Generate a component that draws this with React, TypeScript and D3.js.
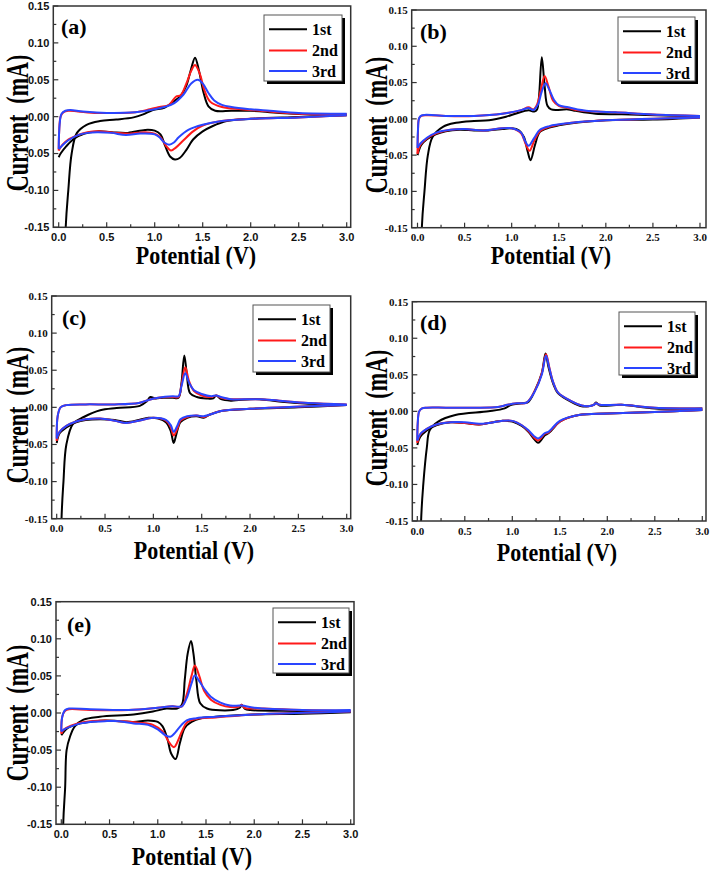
import React from 'react';
import * as d3 from 'd3';

type Pt = [number, number];

const cycleNames = ['1st', '2nd', '3rd'];
const cycleColors = ['#000000', '#ff1a1a', '#2a45ff'];
const panelLabels = ['(a)', '(b)', '(c)', '(d)', '(e)'];
const xTickValues = [0, 0.5, 1, 1.5, 2, 2.5, 3];
const xTickLabels = ['0.0', '0.5', '1.0', '1.5', '2.0', '2.5', '3.0'];
const xMinorTicks = [0.25, 0.75, 1.25, 1.75, 2.25, 2.75];
const yTickValues = [-0.15, -0.1, -0.05, 0, 0.05, 0.1, 0.15];
const yTickLabels = ['-0.15', '-0.10', '-0.05', '0.00', '0.05', '0.10', '0.15'];
const yMinorTicks = [-0.125, -0.075, -0.025, 0.025, 0.075, 0.125];
const xTitle = 'Potential (V)';
const yTitle = 'Current\u00a0\u00a0(mA)';

// ---------- panel (a) ----------
const aCath1: Pt[] = [[3.0,0.002],[2.5,-0.0005],[2.0,-0.003],[1.75,-0.006],[1.6,-0.013],[1.5,-0.02],[1.4,-0.031],[1.33,-0.045],[1.26,-0.056],[1.21,-0.058],[1.16,-0.054],[1.11,-0.04],[1.06,-0.024],[1.0,-0.019],[0.9,-0.018],[0.72,-0.022],[0.55,-0.021],[0.4,-0.02],[0.27,-0.023],[0.16,-0.03],[0.08,-0.04],[0.02,-0.05],[0.0,-0.055]];
const aAnod1: Pt[] = [[0.03,-0.4],[0.073,-0.15],[0.1,-0.1],[0.135,-0.05],[0.19,-0.022],[0.29,-0.011],[0.43,-0.006],[0.6,-0.004],[0.78,-0.001],[0.88,0.003],[0.98,0.009],[1.1,0.012],[1.19,0.02],[1.27,0.028],[1.33,0.042],[1.38,0.065],[1.42,0.08],[1.46,0.063],[1.51,0.032],[1.56,0.014],[1.63,0.008],[1.8,0.008],[2.0,0.008],[2.3,0.005],[2.7,0.003],[3.0,0.003]];
const aCath2: Pt[] = [[3.0,0.002],[2.5,-0.001],[2.0,-0.003],[1.7,-0.006],[1.5,-0.012],[1.4,-0.02],[1.3,-0.032],[1.22,-0.042],[1.17,-0.046],[1.12,-0.04],[1.06,-0.028],[1.0,-0.023],[0.9,-0.021],[0.75,-0.023],[0.6,-0.022],[0.45,-0.02],[0.3,-0.021],[0.2,-0.025],[0.1,-0.031],[0.04,-0.038],[0.0,-0.046]];
const aAnod2: Pt[] = [[0.0,-0.046],[0.005,-0.02],[0.02,0.0],[0.05,0.006],[0.1,0.008],[0.2,0.007],[0.4,0.005],[0.6,0.005],[0.8,0.006],[0.95,0.01],[1.05,0.013],[1.15,0.016],[1.22,0.027],[1.27,0.029],[1.33,0.045],[1.38,0.062],[1.42,0.07],[1.47,0.058],[1.52,0.035],[1.58,0.02],[1.7,0.013],[1.9,0.01],[2.1,0.008],[2.5,0.004],[3.0,0.003]];
const aCath3: Pt[] = [[3.0,0.002],[2.5,-0.001],[2.0,-0.003],[1.7,-0.006],[1.5,-0.011],[1.35,-0.018],[1.25,-0.028],[1.2,-0.035],[1.15,-0.038],[1.1,-0.035],[1.05,-0.028],[1.0,-0.024],[0.85,-0.023],[0.7,-0.025],[0.55,-0.022],[0.4,-0.021],[0.3,-0.022],[0.2,-0.025],[0.1,-0.032],[0.03,-0.04],[0.0,-0.044]];
const aAnod3: Pt[] = [[0.0,-0.044],[0.01,-0.01],[0.03,0.004],[0.07,0.008],[0.12,0.009],[0.25,0.007],[0.5,0.005],[0.8,0.006],[1.0,0.01],[1.1,0.013],[1.2,0.018],[1.3,0.03],[1.38,0.045],[1.45,0.05],[1.5,0.045],[1.56,0.032],[1.62,0.022],[1.7,0.016],[1.8,0.013],[2.0,0.01],[2.2,0.008],[2.5,0.005],[3.0,0.004]];

// ---------- panel (b) ----------
const bCath1: Pt[] = [[3.0,0.002],[2.5,-0.001],[2.0,-0.002],[1.7,-0.005],[1.5,-0.009],[1.4,-0.012],[1.3,-0.018],[1.25,-0.035],[1.2,-0.057],[1.17,-0.045],[1.13,-0.025],[1.08,-0.016],[1.0,-0.013],[0.9,-0.014],[0.75,-0.016],[0.6,-0.016],[0.45,-0.015],[0.3,-0.017],[0.2,-0.021],[0.1,-0.028],[0.04,-0.036],[0.0,-0.05]];
const bAnod1: Pt[] = [[0.02,-0.4],[0.046,-0.15],[0.074,-0.1],[0.11,-0.05],[0.16,-0.025],[0.27,-0.011],[0.41,-0.0055],[0.6,-0.003],[0.76,-0.002],[0.94,0.003],[1.04,0.007],[1.18,0.012],[1.24,0.01],[1.27,0.013],[1.29,0.03],[1.32,0.085],[1.35,0.045],[1.38,0.018],[1.42,0.013],[1.6,0.013],[1.68,0.011],[1.89,0.007],[2.17,0.0064],[2.52,0.005],[3.0,0.003]];
const bCath2: Pt[] = [[3.0,0.002],[2.0,-0.002],[1.6,-0.006],[1.4,-0.011],[1.3,-0.017],[1.24,-0.03],[1.19,-0.044],[1.15,-0.035],[1.1,-0.02],[1.0,-0.013],[0.9,-0.013],[0.7,-0.016],[0.5,-0.014],[0.35,-0.015],[0.2,-0.02],[0.1,-0.027],[0.03,-0.036],[0.0,-0.048]];
const bAnod2: Pt[] = [[0.0,-0.048],[0.005,-0.02],[0.015,0.0],[0.04,0.004],[0.1,0.005],[0.3,0.004],[0.6,0.004],[0.9,0.007],[1.1,0.012],[1.18,0.016],[1.23,0.013],[1.27,0.02],[1.31,0.04],[1.35,0.059],[1.39,0.045],[1.44,0.025],[1.5,0.018],[1.6,0.015],[1.7,0.012],[1.9,0.01],[2.1,0.009],[2.5,0.006],[3.0,0.004]];
const bCath3: Pt[] = [[3.0,0.002],[2.0,-0.002],[1.6,-0.006],[1.4,-0.01],[1.3,-0.015],[1.24,-0.026],[1.18,-0.037],[1.14,-0.03],[1.1,-0.019],[1.0,-0.013],[0.9,-0.013],[0.7,-0.016],[0.5,-0.014],[0.35,-0.015],[0.2,-0.019],[0.1,-0.026],[0.03,-0.034],[0.0,-0.04]];
const bAnod3: Pt[] = [[0.0,-0.04],[0.005,-0.015],[0.02,0.002],[0.05,0.005],[0.3,0.004],[0.6,0.004],[0.9,0.007],[1.1,0.012],[1.18,0.015],[1.23,0.012],[1.28,0.02],[1.32,0.038],[1.36,0.049],[1.4,0.04],[1.45,0.026],[1.5,0.019],[1.6,0.016],[1.7,0.013],[1.9,0.01],[2.1,0.009],[2.5,0.006],[3.0,0.004]];

// ---------- panel (c) ----------
const cCath1: Pt[] = [[3.0,0.003],[2.5,0.0],[2.0,-0.002],[1.7,-0.005],[1.58,-0.01],[1.52,-0.014],[1.45,-0.012],[1.35,-0.014],[1.28,-0.02],[1.24,-0.035],[1.21,-0.048],[1.18,-0.032],[1.13,-0.02],[1.05,-0.015],[0.95,-0.014],[0.85,-0.017],[0.72,-0.02],[0.6,-0.017],[0.45,-0.016],[0.3,-0.017],[0.2,-0.02],[0.1,-0.027],[0.03,-0.035],[0.0,-0.048]];
const cAnod1: Pt[] = [[0.03,-0.4],[0.05,-0.15],[0.07,-0.1],[0.1,-0.05],[0.17,-0.022],[0.28,-0.013],[0.45,-0.004],[0.62,-0.001],[0.86,0.002],[0.93,0.008],[0.97,0.014],[1.02,0.012],[1.1,0.013],[1.2,0.013],[1.26,0.013],[1.29,0.032],[1.32,0.07],[1.345,0.046],[1.38,0.019],[1.45,0.014],[1.55,0.012],[1.62,0.012],[1.65,0.016],[1.7,0.011],[1.8,0.009],[2.0,0.011],[2.1,0.011],[2.3,0.008],[2.6,0.005],[3.0,0.003]];
const cCath2: Pt[] = [[3.0,0.003],[2.0,-0.002],[1.7,-0.005],[1.58,-0.01],[1.52,-0.013],[1.45,-0.011],[1.35,-0.013],[1.28,-0.018],[1.25,-0.028],[1.21,-0.038],[1.18,-0.027],[1.13,-0.018],[1.0,-0.014],[0.85,-0.018],[0.72,-0.021],[0.6,-0.018],[0.45,-0.015],[0.3,-0.016],[0.2,-0.019],[0.1,-0.025],[0.03,-0.033],[0.0,-0.045]];
const cAnod2: Pt[] = [[0.0,-0.045],[0.01,-0.012],[0.04,0.0],[0.1,0.003],[0.3,0.004],[0.6,0.004],[0.85,0.006],[0.95,0.01],[1.05,0.013],[1.2,0.014],[1.26,0.014],[1.29,0.03],[1.33,0.054],[1.37,0.035],[1.42,0.022],[1.5,0.016],[1.6,0.014],[1.65,0.016],[1.7,0.013],[1.8,0.011],[2.0,0.011],[2.1,0.011],[2.3,0.009],[2.6,0.006],[3.0,0.004]];
const cCath3: Pt[] = [[3.0,0.003],[2.0,-0.002],[1.7,-0.005],[1.58,-0.01],[1.52,-0.012],[1.45,-0.011],[1.35,-0.012],[1.28,-0.016],[1.25,-0.024],[1.21,-0.033],[1.18,-0.024],[1.13,-0.017],[1.0,-0.014],[0.85,-0.018],[0.72,-0.021],[0.6,-0.018],[0.45,-0.015],[0.3,-0.016],[0.2,-0.019],[0.1,-0.025],[0.03,-0.033],[0.0,-0.042]];
const cAnod3: Pt[] = [[0.0,-0.042],[0.01,-0.012],[0.04,0.0],[0.1,0.003],[0.3,0.004],[0.6,0.004],[0.85,0.006],[0.95,0.01],[1.05,0.013],[1.2,0.015],[1.26,0.015],[1.29,0.028],[1.33,0.046],[1.37,0.033],[1.42,0.023],[1.5,0.018],[1.6,0.015],[1.65,0.016],[1.7,0.014],[1.8,0.011],[2.0,0.011],[2.1,0.011],[2.3,0.009],[2.6,0.006],[3.0,0.004]];

// ---------- panel (d) ----------
const dCath1: Pt[] = [[3.0,0.002],[2.5,-0.001],[2.0,-0.003],[1.7,-0.005],[1.5,-0.014],[1.42,-0.025],[1.38,-0.03],[1.34,-0.033],[1.3,-0.04],[1.27,-0.043],[1.23,-0.038],[1.17,-0.028],[1.1,-0.02],[1.0,-0.014],[0.9,-0.013],[0.75,-0.016],[0.65,-0.018],[0.5,-0.016],[0.35,-0.015],[0.2,-0.019],[0.1,-0.026],[0.03,-0.035],[0.0,-0.046]];
const dAnod1: Pt[] = [[0.02,-0.4],[0.04,-0.15],[0.063,-0.1],[0.1,-0.05],[0.13,-0.026],[0.22,-0.014],[0.4,-0.005],[0.75,0.0],[0.92,0.004],[0.99,0.009],[1.1,0.011],[1.17,0.013],[1.24,0.029],[1.31,0.052],[1.35,0.079],[1.38,0.061],[1.43,0.038],[1.48,0.025],[1.62,0.013],[1.73,0.007],[1.8,0.007],[1.86,0.009],[1.88,0.012],[1.92,0.008],[2.15,0.009],[2.5,0.004],[3.0,0.004]];
const dCath2: Pt[] = [[3.0,0.002],[2.5,-0.001],[2.0,-0.003],[1.7,-0.005],[1.5,-0.014],[1.42,-0.024],[1.38,-0.029],[1.34,-0.031],[1.3,-0.037],[1.27,-0.04],[1.23,-0.036],[1.17,-0.027],[1.1,-0.019],[1.0,-0.013],[0.9,-0.013],[0.75,-0.016],[0.65,-0.018],[0.5,-0.016],[0.35,-0.015],[0.2,-0.018],[0.1,-0.024],[0.03,-0.032],[0.0,-0.043]];
const dAnod2: Pt[] = [[0.0,-0.043],[0.005,-0.015],[0.02,0.0],[0.05,0.004],[0.1,0.005],[0.3,0.005],[0.6,0.005],[0.85,0.006],[0.95,0.009],[1.05,0.011],[1.15,0.012],[1.24,0.029],[1.31,0.052],[1.355,0.078],[1.39,0.06],[1.43,0.04],[1.48,0.026],[1.62,0.014],[1.73,0.008],[1.8,0.007],[1.86,0.009],[1.88,0.011],[1.92,0.009],[2.15,0.009],[2.5,0.005],[3.0,0.004]];
const dCath3: Pt[] = [[3.0,0.002],[2.5,-0.001],[2.0,-0.003],[1.7,-0.005],[1.5,-0.013],[1.42,-0.023],[1.38,-0.028],[1.34,-0.03],[1.3,-0.035],[1.27,-0.037],[1.23,-0.034],[1.17,-0.026],[1.1,-0.019],[1.0,-0.013],[0.9,-0.013],[0.75,-0.016],[0.65,-0.017],[0.5,-0.015],[0.35,-0.015],[0.2,-0.018],[0.1,-0.024],[0.03,-0.031],[0.0,-0.04]];
const dAnod3: Pt[] = [[0.0,-0.04],[0.005,-0.015],[0.02,0.0],[0.05,0.004],[0.1,0.005],[0.3,0.005],[0.6,0.005],[0.85,0.006],[0.95,0.009],[1.05,0.011],[1.15,0.012],[1.24,0.028],[1.31,0.05],[1.355,0.076],[1.39,0.059],[1.43,0.04],[1.48,0.026],[1.62,0.014],[1.73,0.008],[1.8,0.007],[1.86,0.009],[1.88,0.011],[1.92,0.009],[2.15,0.009],[2.5,0.005],[3.0,0.004]];

// ---------- panel (e) ----------
const eCath1: Pt[] = [[3.0,0.001],[2.5,-0.001],[2.0,-0.002],[1.7,-0.004],[1.6,-0.005],[1.45,-0.007],[1.35,-0.012],[1.28,-0.02],[1.23,-0.04],[1.185,-0.062],[1.14,-0.055],[1.1,-0.035],[1.05,-0.018],[1.0,-0.012],[0.9,-0.01],[0.75,-0.012],[0.6,-0.011],[0.45,-0.01],[0.3,-0.012],[0.2,-0.014],[0.1,-0.018],[0.05,-0.022],[0.0,-0.03]];
const eAnod1: Pt[] = [[0.01,-0.4],[0.02,-0.15],[0.04,-0.1],[0.055,-0.05],[0.09,-0.032],[0.14,-0.018],[0.23,-0.009],[0.4,-0.005],[0.75,-0.002],[0.95,0.002],[1.09,0.006],[1.2,0.006],[1.25,0.011],[1.28,0.045],[1.31,0.08],[1.345,0.097],[1.37,0.08],[1.4,0.044],[1.44,0.013],[1.51,0.006],[1.78,0.004],[1.85,0.007],[1.87,0.011],[1.9,0.006],[1.96,0.004],[2.3,0.003],[3.0,0.002]];
const eCath2: Pt[] = [[3.0,0.002],[2.0,-0.002],[1.6,-0.006],[1.4,-0.008],[1.3,-0.013],[1.25,-0.025],[1.2,-0.04],[1.17,-0.046],[1.12,-0.04],[1.05,-0.025],[0.95,-0.016],[0.8,-0.013],[0.6,-0.011],[0.45,-0.01],[0.3,-0.011],[0.2,-0.013],[0.1,-0.017],[0.03,-0.022],[0.0,-0.028]];
const eAnod2: Pt[] = [[0.0,-0.028],[0.01,-0.005],[0.04,0.003],[0.08,0.005],[0.3,0.004],[0.7,0.004],[1.0,0.007],[1.15,0.009],[1.25,0.009],[1.3,0.025],[1.35,0.05],[1.385,0.064],[1.43,0.05],[1.48,0.03],[1.55,0.018],[1.65,0.011],[1.75,0.008],[1.85,0.009],[1.87,0.011],[1.9,0.007],[2.1,0.006],[2.5,0.004],[3.0,0.003]];
const eCath3: Pt[] = [[3.0,0.002],[2.0,-0.002],[1.6,-0.005],[1.4,-0.007],[1.3,-0.01],[1.22,-0.02],[1.17,-0.028],[1.13,-0.032],[1.08,-0.03],[1.0,-0.022],[0.9,-0.016],[0.75,-0.014],[0.6,-0.011],[0.45,-0.011],[0.3,-0.012],[0.2,-0.014],[0.1,-0.018],[0.03,-0.022],[0.0,-0.025]];
const eAnod3: Pt[] = [[0.0,-0.025],[0.01,-0.005],[0.04,0.004],[0.08,0.006],[0.3,0.005],[0.7,0.004],[1.0,0.007],[1.15,0.009],[1.25,0.009],[1.3,0.02],[1.35,0.04],[1.385,0.051],[1.42,0.045],[1.48,0.033],[1.55,0.022],[1.65,0.014],[1.75,0.01],[1.87,0.01],[2.0,0.007],[2.5,0.004],[3.0,0.004]];

const panelCurves: Pt[][][][] = [
  [[aCath1, aAnod1], [aCath2, aAnod2], [aCath3, aAnod3]],
  [[bCath1, bAnod1], [bCath2, bAnod2], [bCath3, bAnod3]],
  [[cCath1, cAnod1], [cCath2, cAnod2], [cCath3, cAnod3]],
  [[dCath1, dAnod1], [dCath2, dAnod2], [dCath3, dAnod3]],
  [[eCath1, eAnod1], [eCath2, eAnod2], [eCath3, eAnod3]],
];

const SERIF = "'Liberation Serif','Times New Roman',serif";
const SANS = "'Liberation Sans',Arial,sans-serif";

interface Layout {
  left: number; top: number; right: number; bottom: number;
  x0: number; x3: number; tickFont: string;
  labelX: number; labelY: number;
  legX: number; legY: number; legW: number; legH: number;
  yTx: number; yTy: number; xTx: number; xTy: number;
}

const layouts: Layout[] = [
  { left: 53.3, top: 6, right: 350.7, bottom: 227.3, x0: 58.7, x3: 346.7, tickFont: SANS, labelX: 61, labelY: 34, legX: 264, legY: 15, legW: 78, legH: 66, yTx: 18, yTy: 123, xTx: 196, xTy: 256.5 },
  { left: 411.7, top: 10, right: 706, bottom: 227.7, x0: 417.5, x3: 700, tickFont: SERIF, labelX: 420, labelY: 39, legX: 618, legY: 17, legW: 77, legH: 64, yTx: 377, yTy: 125, xTx: 551, xTy: 256.5 },
  { left: 51.7, top: 296, right: 350.7, bottom: 518.7, x0: 56.7, x3: 346.7, tickFont: SERIF, labelX: 62, labelY: 325, legX: 253, legY: 305, legW: 77, legH: 67, yTx: 18, yTy: 415, xTx: 194, xTy: 551 },
  { left: 412.3, top: 301.7, right: 706, bottom: 521, x0: 417.3, x3: 702.3, tickFont: SERIF, labelX: 420, labelY: 330, legX: 619, legY: 312, legW: 76, legH: 63, yTx: 377, yTy: 418, xTx: 557, xTy: 553 },
  { left: 56, top: 601.7, right: 354, bottom: 824.3, x0: 61.3, x3: 350.7, tickFont: SANS, labelX: 67, labelY: 632, legX: 273, legY: 608, legW: 76, legH: 65, yTx: 18, yTy: 713, xTx: 192, xTy: 857 },
];

const TITLE_SIZE = 22;
const X_STRETCH = 1.15;
const Y_STRETCH = 1.45;

function Panel({ idx }: { idx: number }) {
  const p = layouts[idx];
  const curves = panelCurves[idx];
  const x = d3.scaleLinear().domain([0, 3]).range([p.x0, p.x3]);
  const y = d3.scaleLinear().domain([-0.15, 0.15]).range([p.bottom, p.top]);
  const line = d3
    .line<Pt>()
    .x((d) => x(d[0]))
    .y((d) => y(d[1]))
    .curve(d3.curveCatmullRom.alpha(0.5));
  const clipId = `clip-${idx}`;
  const rowOffsets = [14.3, 35.5, 56];
  return (
    <g>
      <defs>
        <clipPath id={clipId}>
          <rect x={p.left} y={p.top} width={p.right - p.left} height={p.bottom - p.top} />
        </clipPath>
      </defs>
      <g clipPath={`url(#${clipId})`}>
        {curves.map((cyc, ci) =>
          cyc.map((branch, bi) => (
            <path key={`${ci}-${bi}`} d={line(branch) || ''} fill="none" stroke={cycleColors[ci]} strokeWidth={2} strokeLinejoin="round" />
          ))
        )}
      </g>
      {xTickValues.map((v) => (
        <line key={`xt${v}`} x1={x(v)} x2={x(v)} y1={p.bottom} y2={p.bottom - 5} stroke="#333" strokeWidth={1.2} />
      ))}
      {xMinorTicks.map((v) => (
        <line key={`xm${v}`} x1={x(v)} x2={x(v)} y1={p.bottom} y2={p.bottom - 3} stroke="#333" strokeWidth={1.2} />
      ))}
      {yTickValues.map((v) => (
        <line key={`yt${v}`} x1={p.left} x2={p.left + 5} y1={y(v)} y2={y(v)} stroke="#333" strokeWidth={1.2} />
      ))}
      {yMinorTicks.map((v) => (
        <line key={`ym${v}`} x1={p.left} x2={p.left + 3} y1={y(v)} y2={y(v)} stroke="#333" strokeWidth={1.2} />
      ))}
      <rect x={p.left} y={p.top} width={p.right - p.left} height={p.bottom - p.top} fill="none" stroke="#333" strokeWidth={1.5} />
      {xTickValues.map((v, i) => (
        <text key={`xl${v}`} x={x(v)} y={p.bottom + 13.5} textAnchor="middle" fontFamily={p.tickFont} fontWeight="bold" fontSize={11} fill="#111">
          {xTickLabels[i]}
        </text>
      ))}
      {yTickValues.map((v, i) => (
        <text key={`yl${v}`} x={p.left - 4} y={y(v)} dy="0.35em" textAnchor="end" fontFamily={p.tickFont} fontWeight="bold" fontSize={11} fill="#111">
          {yTickLabels[i]}
        </text>
      ))}
      <text x={p.labelX} y={p.labelY} fontFamily={SERIF} fontWeight="bold" fontSize={22} fill="#000">
        {panelLabels[idx]}
      </text>
      <rect x={p.legX + 3} y={p.legY + 3} width={p.legW} height={p.legH} fill="#000" />
      <rect x={p.legX} y={p.legY} width={p.legW} height={p.legH} fill="#fff" stroke="#555" strokeWidth={1} />
      {cycleNames.map((n, i) => (
        <g key={n}>
          <line x1={p.legX + 5} x2={p.legX + 43} y1={p.legY + rowOffsets[i]} y2={p.legY + rowOffsets[i]} stroke={cycleColors[i]} strokeWidth={2} />
          <text x={p.legX + 48} y={p.legY + rowOffsets[i]} dy="0.35em" fontFamily={SERIF} fontWeight="bold" fontSize={16} fill="#000">
            {n}
          </text>
        </g>
      ))}
      <text transform={`translate(${p.yTx},${p.yTy}) rotate(-90) scale(1,${Y_STRETCH})`} textAnchor="middle" dy="0.3em" fontFamily={SERIF} fontWeight="bold" fontSize={TITLE_SIZE} fill="#000">
        {yTitle}
      </text>
      <text transform={`translate(${p.xTx},${p.xTy}) scale(1,${X_STRETCH})`} textAnchor="middle" dy="0.3em" fontFamily={SERIF} fontWeight="bold" fontSize={TITLE_SIZE} fill="#000">
        {xTitle}
      </text>
    </g>
  );
}

export default function App() {
  return (
    <svg width={710} height={873} viewBox="0 0 710 873" style={{ position: 'absolute', left: 0, top: 0, background: '#fff' }}>
      <rect x={0} y={0} width={710} height={873} fill="#fff" />
      {layouts.map((_, i) => (
        <Panel key={i} idx={i} />
      ))}
    </svg>
  );
}
